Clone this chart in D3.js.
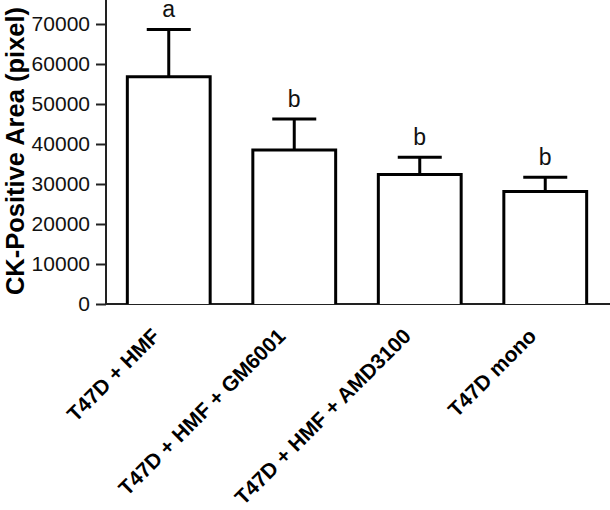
<!DOCTYPE html>
<html>
<head>
<meta charset="utf-8">
<script src="https://cdn.jsdelivr.net/npm/d3@7/dist/d3.min.js"></script>
<style>
  html, body { margin: 0; padding: 0; background: #fff; }
  svg { display: block; }
  text { font-family: "Liberation Sans", Arial, Helvetica, sans-serif; }
</style>
</head>
<body>
<svg id="chart" width="610" height="510"></svg>
<script>
const categories = ["T47D + HMF", "T47D + HMF + GM6001", "T47D + HMF + AMD3100", "T47D mono"];
const means = [56800, 38500, 32400, 28100];
const errors = [11800, 7750, 4300, 3600];
const letters = ["a", "b", "b", "b"];
const yTicks = [0, 10000, 20000, 30000, 40000, 50000, 60000, 70000];
const yTitle = "CK-Positive Area (pixel)";

const svg = d3.select("#chart");
const x0 = 106, xEnd = 608, y0 = 304, yTop = 24;

const x = d3.scaleBand().domain(categories).range([x0, xEnd]).paddingInner(0.34).paddingOuter(0.17);
const y = d3.scaleLinear().domain([0, 70000]).range([y0, yTop]);

// Y axis
const yAxis = svg.append("g").attr("transform", `translate(${x0},0)`)
  .call(d3.axisLeft(y).tickValues(yTicks).tickSize(10).tickPadding(6).tickFormat(d3.format("d")));
yAxis.select(".domain").attr("d", `M0,${y0}V0`).attr("stroke", "#222").attr("stroke-width", 2);
yAxis.selectAll(".tick line").attr("stroke", "#222").attr("stroke-width", 2);
yAxis.selectAll(".tick text").attr("font-size", 21).attr("fill", "#111")
  .attr("font-family", "'Liberation Sans', Arial, sans-serif");

// X axis line
svg.append("line").attr("x1", x0 - 1).attr("x2", 610).attr("y1", y0).attr("y2", y0)
  .attr("stroke", "#222").attr("stroke-width", 2);

// Bars
const g = svg.append("g");
categories.forEach((c, i) => {
  const bx = x(c), bw = x.bandwidth(), cx = bx + bw / 2;
  const top = y(means[i]), errTop = y(means[i] + errors[i]);
  // error bar
  g.append("line").attr("x1", cx).attr("x2", cx).attr("y1", top).attr("y2", errTop)
    .attr("stroke", "#000").attr("stroke-width", 3);
  g.append("line").attr("x1", cx - 22).attr("x2", cx + 22).attr("y1", errTop).attr("y2", errTop)
    .attr("stroke", "#000").attr("stroke-width", 3);
  // bar
  g.append("path")
    .attr("d", `M${bx},${y0}V${top}H${bx + bw}V${y0}`)
    .attr("fill", "#fff").attr("stroke", "#000").attr("stroke-width", 3);
  // letter
  g.append("text").attr("x", cx).attr("y", errTop - 12.5).attr("text-anchor", "middle")
    .attr("font-size", 23).attr("fill", "#111").text(letters[i]);
  // category label
  g.append("text")
    .attr("transform", `translate(${cx - 18},${y0 + 23}) rotate(-45)`)
    .attr("text-anchor", "end").attr("dy", "0.7em")
    .attr("font-size", 21).attr("font-weight", "bold").attr("fill", "#000")
    .text(c);
});

// Y title
svg.append("text")
  .attr("transform", `translate(23.5,${151}) rotate(-90)`)
  .attr("text-anchor", "middle")
  .attr("font-size", 25.5).attr("font-weight", "bold").attr("fill", "#000")
  .text(yTitle);
</script>
</body>
</html>
